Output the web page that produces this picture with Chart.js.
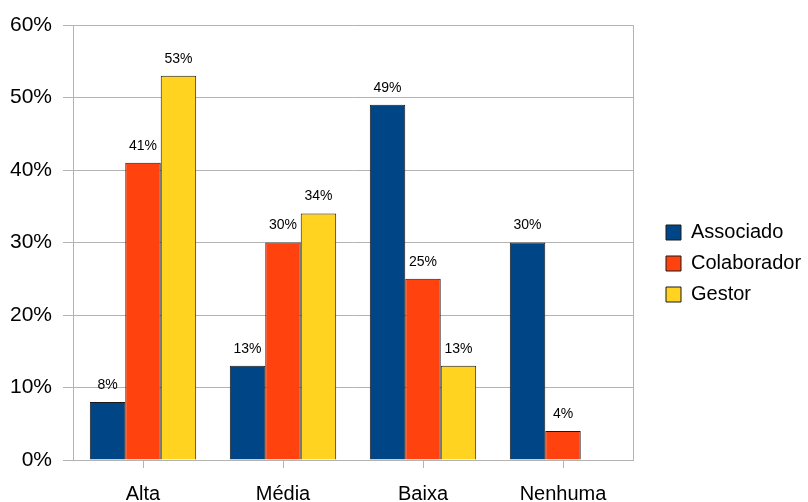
<!DOCTYPE html>
<html>
<head>
<meta charset="utf-8">
<script src="https://cdn.jsdelivr.net/npm/chart.js@4.4.0/dist/chart.umd.min.js"></script>
<style>
  html, body { margin: 0; padding: 0; background: #fff; }
  #wrap { width: 808px; height: 502px; }
</style>
</head>
<body>
<div id="wrap"><canvas id="grafico" width="808" height="502"></canvas></div>
<script>
// Dados do gráfico
const categorias = ['Alta', 'Média', 'Baixa', 'Nenhuma'];
const associado = [8, 13, 49, 30];
const colaborador = [41, 30, 25, 4];
const gestor = [53, 34, 13, null];

const fonte = '"Liberation Sans", Arial, sans-serif';

// Rótulos de valor acima das barras
const rotulosPlugin = {
  id: 'rotulos',
  afterDatasetsDraw(chart) {
    const ctx = chart.ctx;
    ctx.save();
    ctx.font = '14px ' + fonte;
    ctx.fillStyle = '#000';
    ctx.textAlign = 'center';
    ctx.textBaseline = 'bottom';
    chart.data.datasets.forEach((ds, i) => {
      const meta = chart.getDatasetMeta(i);
      meta.data.forEach((bar, j) => {
        const v = ds.data[j];
        if (v === null || v === undefined) return;
        ctx.fillText(v + '%', bar.x, bar.y - 10);
      });
    });
    ctx.restore();
  }
};

// Borda direita da área do gráfico
const bordaPlugin = {
  id: 'borda',
  beforeDatasetsDraw(chart) {
    const a = chart.chartArea;
    const ctx = chart.ctx;
    ctx.save();
    ctx.strokeStyle = '#b3b3b3';
    ctx.lineWidth = 1;
    ctx.beginPath();
    ctx.moveTo(Math.round(a.right) + 0.5, a.top);
    ctx.lineTo(Math.round(a.right) + 0.5, a.bottom);
    ctx.stroke();
    ctx.restore();
  }
};

// Legenda mais larga, com espaço livre à esquerda dos itens
const LARGURA_LEGENDA = 175;
const RECUO_LEGENDA = 22;
const legendaPlugin = {
  id: 'legendaLarga',
  afterInit(chart) {
    const lg = chart.legend;
    if (!lg) return;
    const fitOriginal = lg.fit.bind(lg);
    lg.fit = function () {
      fitOriginal();
      this.width = LARGURA_LEGENDA;
    };
  },
  afterLayout(chart) {
    if (chart.legend) chart.legend.left += RECUO_LEGENDA;
  }
};

const ctx = document.getElementById('grafico').getContext('2d');
new Chart(ctx, {
  type: 'bar',
  data: {
    labels: categorias,
    datasets: [{
      label: 'Associado',
      data: associado,
      backgroundColor: '#004586',
      borderColor: '#1a1a1a',
      borderWidth: 1
    }, {
      label: 'Colaborador',
      data: colaborador,
      backgroundColor: '#ff420e',
      borderColor: '#1a1a1a',
      borderWidth: 1
    }, {
      label: 'Gestor',
      data: gestor,
      backgroundColor: '#ffd320',
      borderColor: '#1a1a1a',
      borderWidth: 1
    }]
  },
  options: {
    responsive: false,
    animation: false,
    layout: { padding: { top: 25, right: 0, left: 0, bottom: 0 } },
    datasets: {
      bar: { categoryPercentage: 0.76, barPercentage: 1.0 }
    },
    plugins: {
      legend: {
        position: 'right',
        align: 'center',
        labels: {
          boxWidth: 15,
          boxHeight: 15,
          padding: 11,
          color: '#000',
          font: { family: fonte, size: 20 }
        }
      },
      tooltip: { enabled: false }
    },
    scales: {
      x: {
        grid: {
          drawOnChartArea: false,
          drawTicks: true,
          tickLength: 8,
          color: '#b3b3b3',
          offset: false
        },
        border: { color: '#b3b3b3' },
        ticks: {
          color: '#000',
          padding: 14,
          font: { family: fonte, size: 20 }
        },
        afterFit(scale) { scale.height = 42; }
      },
      y: {
        min: 0,
        max: 60,
        grid: { color: '#b3b3b3', tickLength: 10 },
        border: { color: '#b3b3b3' },
        ticks: {
          stepSize: 10,
          color: '#000',
          padding: 11,
          font: { family: fonte, size: 21 },
          callback: v => v + '%'
        },
        afterFit(scale) { scale.width = 73; }
      }
    }
  },
  plugins: [rotulosPlugin, bordaPlugin, legendaPlugin]
});
</script>
</body>
</html>
